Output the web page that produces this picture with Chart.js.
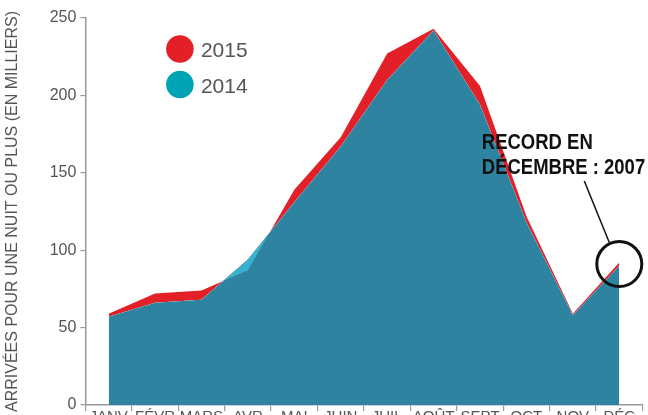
<!DOCTYPE html>
<html>
<head>
<meta charset="utf-8">
<script src="https://cdn.jsdelivr.net/npm/chart.js@4"></script>
<style>
  html, body { margin: 0; padding: 0; overflow: hidden; background: #fff; }
</style>
</head>
<body>
<canvas id="arrivals-chart" width="648" height="423"></canvas>
<script>
const months = ['JANV', 'FÉVR', 'MARS', 'AVR', 'MAI', 'JUIN', 'JUIL', 'AOÛT', 'SEPT', 'OCT', 'NOV', 'DÉC']
const arrivals2015 = [59, 72, 74, 87, 139, 173, 227, 243, 206, 122, 59, 92]
const arrivals2014 = [57, 66, 68, 94, 131, 167, 210, 242, 194, 118, 58, 90]
const yTicks = [0, 50, 100, 150, 200, 250]
const recordLines = ['RECORD EN', 'DÉCEMBRE : 2007']

const red = '#E31F27'
const cyan = '#00A3B4'
const cyanArea = '#38B3CF'
const darkBlue = '#2E83A1'
const grey = '#555555'
const font = "'Liberation Sans', Arial, sans-serif"

// legend drawn inside the plot, top left
const insideLegend = {
  id: 'insideLegend',
  afterDraw: (chart) => {
    const ctx = chart.ctx
    const area = chart.chartArea
    const x = area.left + 94.5
    const items = chart.data.datasets.map((ds) => ({ label: ds.label, color: ds.backgroundColor }))
    ctx.save()
    items.forEach((item, i) => {
      const y = area.top + 31 + i * 35.5
      ctx.fillStyle = item.color
      ctx.beginPath()
      ctx.arc(x, y, 13.8, 0, Math.PI * 2)
      ctx.fill()
      ctx.fillStyle = grey
      ctx.font = `21px ${font}`
      ctx.textBaseline = 'alphabetic'
      ctx.fillText(item.label, x + 21, y + 8)
    })
    ctx.restore()
  }
}

// circle round the december point with its note
const recordNote = {
  id: 'recordNote',
  afterDatasetsDraw: (chart) => {
    const ctx = chart.ctx
    const last = months.length - 1
    const cx = chart.scales.x.getPixelForValue(last)
    const cy = chart.scales.y.getPixelForValue(arrivals2015[last]) + 1.5
    ctx.save()
    ctx.strokeStyle = '#111'
    ctx.lineWidth = 3
    ctx.beginPath()
    ctx.arc(cx, cy, 22.5, 0, Math.PI * 2)
    ctx.stroke()

    ctx.lineWidth = 1.5
    ctx.beginPath()
    ctx.moveTo(cx - 35, cy - 83)
    ctx.lineTo(cx - 10, cy - 21.5)
    ctx.stroke()

    // no narrow font installed, so squeeze the bold one
    ctx.fillStyle = '#111'
    ctx.font = `bold 21.5px ${font}`
    ctx.textBaseline = 'alphabetic'
    recordLines.forEach((line, i) => {
      ctx.save()
      ctx.translate(cx - 137.5, cy - 115 + i * 25)
      ctx.scale(0.86, 1)
      ctx.fillText(line, 0, 0)
      ctx.restore()
    })
    ctx.restore()
  }
}

const ctx = document.getElementById('arrivals-chart').getContext('2d')

const chart = new Chart(ctx, {
  type: 'line',
  data: {
    labels: months,
    datasets: [{
      label: '2015',
      data: arrivals2015,
      backgroundColor: red,
      borderColor: 'transparent',
      borderWidth: 0,
      pointRadius: 0,
      tension: 0,
      fill: { target: 1, above: red, below: cyanArea }
    }, {
      label: '2014',
      data: arrivals2014,
      backgroundColor: cyan,
      borderColor: 'transparent',
      borderWidth: 0,
      pointRadius: 0,
      tension: 0,
      fill: { target: 'origin', above: darkBlue }
    }]
  },
  options: {
    responsive: false,
    animation: false,
    layout: { padding: { top: 18, right: 5.5, left: 0, bottom: 0 } },
    plugins: {
      legend: { display: false },
      tooltip: { enabled: false }
    },
    scales: {
      x: {
        offset: true,
        grid: { display: true, drawOnChartArea: false, offset: true, tickLength: 6, color: '#999', lineWidth: 1.2 },
        border: { display: true, color: '#999', width: 1.5 },
        ticks: { color: grey, font: { family: font, size: 15 }, padding: -3, maxRotation: 0, autoSkip: false }
      },
      y: {
        min: yTicks[0],
        max: yTicks[yTicks.length - 1],
        afterBuildTicks: (scale) => { scale.ticks = yTicks.map((v) => ({ value: v })) },
        grid: { display: true, drawOnChartArea: false, tickLength: 5, color: '#999', lineWidth: 1.2 },
        border: { display: true, color: '#999', width: 1.5 },
        ticks: { color: grey, font: { family: font, size: 16 }, padding: 4 },
        title: {
          display: true,
          text: 'ARRIVÉES POUR UNE NUIT OU PLUS (EN MILLIERS)',
          color: grey,
          font: { family: font, size: 16 },
          padding: { top: 3, bottom: 23.5 }
        }
      }
    }
  },
  plugins: [insideLegend, recordNote]
})
</script>
</body>
</html>
